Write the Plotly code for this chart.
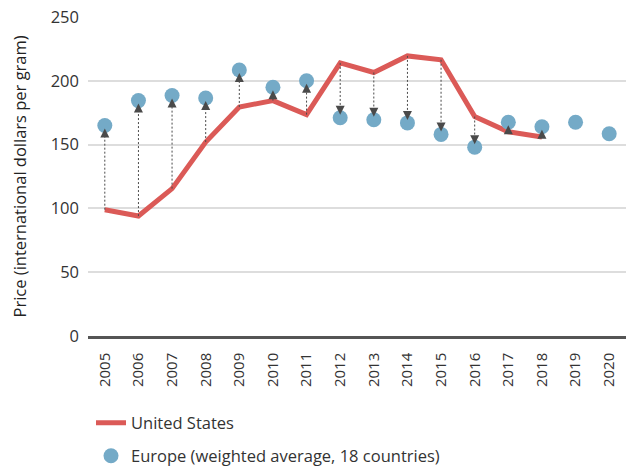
import plotly.graph_objects as go

# Price per gram, international dollars
years = [str(y) for y in range(2005, 2021)]
us_price = [99, 94, 115.5, 152, 179.5, 184.5, 173.5, 214, 206.5, 219.5, 216.5, 172, 160, 156]
europe_price = [165, 184.5, 188.5, 186.5, 208.5, 195, 200, 171, 169.5, 167, 158, 148, 167.5, 164, 167.5, 158.5]
y_ticks = [0, 50, 100, 150, 200, 250]

RED = "#db5a57"
BLUE = "#74aac7"
ARROW = "#4a4a4a"
TEXT = "#333333"
FONT = "Open Sans"

W, H = 636, 466
M_L, M_R, M_T, M_B = 88, 10, 17, 130
PLOT_W = W - M_L - M_R
PLOT_H = H - M_T - M_B
Y_MAX = 250
px = Y_MAX / PLOT_H  # data units per pixel

# connectors from US price to European price, one per year with both values
shaft_x, shaft_y = [], []
up_x, up_y, down_x, down_y = [], [], [], []
for yr, u, e in zip(years, us_price, europe_price):
    d = 1 if e > u else -1
    tip = e - d * 3 * px
    shaft_x += [yr, yr, None]
    shaft_y += [u, tip - d * 4 * px, None]
    if d > 0:
        up_x.append(yr)
        up_y.append(tip)
    else:
        down_x.append(yr)
        down_y.append(tip)

fig = go.Figure()

fig.add_trace(go.Scatter(
    x=years[:len(us_price)], y=us_price, mode="lines", name="United States",
    line=dict(color=RED, width=5), legend="legend", hoverinfo="skip",
))
fig.add_trace(go.Scatter(
    x=shaft_x, y=shaft_y, mode="lines", showlegend=False,
    line=dict(color=ARROW, width=1, dash="2px,2px"), hoverinfo="skip",
))
fig.add_trace(go.Scatter(
    x=years, y=europe_price, mode="markers",
    name="Europe (weighted average, 18 countries)",
    marker=dict(color=BLUE, size=15), legend="legend2", hoverinfo="skip",
))
fig.add_trace(go.Scatter(
    x=up_x, y=up_y, mode="markers", showlegend=False,
    marker=dict(symbol="arrow-up", size=9, color=ARROW, line=dict(width=0)),
    hoverinfo="skip",
))
fig.add_trace(go.Scatter(
    x=down_x, y=down_y, mode="markers", showlegend=False,
    marker=dict(symbol="arrow-down", size=9, color=ARROW, line=dict(width=0)),
    hoverinfo="skip",
))

legend_common = dict(
    orientation="v", xref="container", yref="container",
    xanchor="left", yanchor="middle",
    font=dict(family=FONT, size=16.5, color=TEXT),
    bgcolor="rgba(0,0,0,0)", itemclick=False,
)

fig.update_layout(
    width=W, height=H,
    margin=dict(l=M_L, r=M_R, t=M_T, b=M_B, autoexpand=False),
    plot_bgcolor="white", paper_bgcolor="white",
    font=dict(family=FONT, color=TEXT),
    legend=dict(x=91 / W, y=1 - 423 / H, **legend_common),
    legend2=dict(x=91 / W, y=1 - 456 / H, **legend_common),
    xaxis=dict(
        type="category", categoryorder="array", categoryarray=years,
        range=[-0.5, len(years) - 0.5],
        tickangle=-90, tickfont=dict(family=FONT, size=15, color=TEXT),
        showgrid=False, showline=True, linecolor="#555555", linewidth=2.5,
        ticks="", ticklabelstandoff=8,
    ),
    yaxis=dict(
        range=[0, Y_MAX], tickvals=y_ticks,
        tickfont=dict(family=FONT, size=16.5, color=TEXT),
        showgrid=True, gridcolor="#dddddd", gridwidth=1.5,
        zeroline=False, ticks="", ticklabelstandoff=8,
    ),
    annotations=[dict(
        text="Price (international dollars per gram)",
        xref="paper", yref="paper", x=(19 - M_L) / PLOT_W, y=0.5,
        xanchor="center", yanchor="middle", textangle=-90, showarrow=False,
        font=dict(family=FONT, size=16.5, color="#222222"),
    )],
)

fig.write_html("out.html")
